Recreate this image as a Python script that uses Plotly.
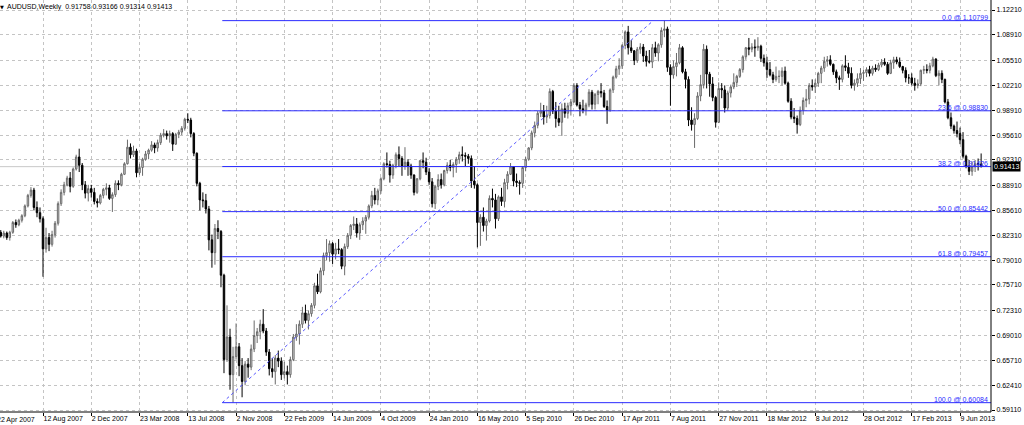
import pandas as pd
import plotly.graph_objects as go

# ---------------- data (AUDUSD weekly) ----------------
first_week = "2007-05-06"

opens = [
    .8270, .8220, .8260, .8200, .8270, .8400, .8370, .8430, .8490, .8620,
    .8760, .8830, .8600, .8530, .8450, .8050, .8200, .8110, .8240, .8390,
    .8650, .8800, .8900, .8990, .8880, .9110, .9270, .9160, .8900, .8790,
    .8850, .8800, .8680, .8660, .8760, .8840, .8860, .8720, .8770, .8920,
    .8900, .9040, .9180, .9400, .9300, .9350, .9060, .9130, .9240, .9310,
    .9360, .9430, .9390, .9460, .9560, .9580, .9550, .9580, .9440, .9570,
    .9600, .9650, .9770, .9760, .9580, .9320, .8920, .8700, .8690, .8580,
    .8170, .8000, .8320, .8280, .7700, .6580, .6880, .6380, .6620, .6750,
    .6500, .6290, .6520, .6480, .6720, .6900, .6950, .7050, .6960, .6680,
    .6460, .6420, .6600, .6560, .6380, .6420, .6380, .6580, .6880, .6920,
    .7050, .7200, .7100, .7190, .7300, .7560, .7480, .7760, .7960, .8000,
    .8120, .7980, .8050, .8040, .7820, .8080, .8230, .8360, .8380, .8260,
    .8370, .8420, .8470, .8620, .8760, .8700, .8820, .8980, .9180, .9170,
    .9030, .9160, .9300, .9250, .9150, .9200, .9150, .9030, .8800, .8980,
    .9220, .9200, .9070, .8940, .8650, .8880, .8970, .8900, .9090, .9160,
    .9130, .9170, .9240, .9300, .9290, .9280, .9250, .8950, .8900, .8400,
    .8470, .8360, .8420, .8720, .8700, .8450, .8740, .8680, .8930, .9040,
    .9140, .8950, .8930, .8920, .9130, .9240, .9390, .9590, .9690, .9850,
    .9880, .9800, .9820, 1.0140, .9880, .9780, .9730, .9910, .9850, .9950,
    1.0000, 1.0220, .9960, .9910, .9890, .9960, 1.0130, .9970, 1.0100, 1.0140,
    1.0120, .9940, .9890, 1.0160, 1.0330, 1.0440, 1.0480, 1.0750, 1.0930, 1.0720,
    1.0680, 1.0550, 1.0700, 1.0730, 1.0610, 1.0540, 1.0530, 1.0720, 1.0650, 1.0760,
    1.0950, 1.0970, 1.0460, 1.0360, 1.0470, 1.0520, 1.0720, 1.0400, 1.0300, .9760,
    .9700, .9780, 1.0080, 1.0230, 1.0700, 1.0370, 1.0240, 1.0060, .9730, 1.0180,
    1.0160, .9920, 1.0120, 1.0200, 1.0260, 1.0340, 1.0430, 1.0600, 1.0720, 1.0700,
    1.0730, 1.0720, 1.0740, 1.0580, 1.0520, 1.0430, 1.0360, 1.0300, 1.0340, 1.0340,
    1.0410, 1.0250, 1.0010, .9800, .9780, .9700, .9890, 1.0020, 1.0040, 1.0220,
    1.0200, 1.0250, 1.0380, 1.0450, 1.0540, 1.0560, 1.0500, 1.0400, 1.0320, 1.0300,
    1.0480, 1.0460, 1.0380, 1.0220, 1.0250, 1.0310, 1.0380, 1.0390, 1.0430, 1.0380,
    1.0450, 1.0430, 1.0490, 1.0530, 1.0500, 1.0380, 1.0520, 1.0560, 1.0530, 1.0470,
    1.0420, 1.0320, 1.0320, 1.0250, 1.0220, 1.0240, 1.0420, 1.0430, 1.0420, 1.0480,
    1.0570, 1.0350, 1.0380, 1.0300, 1.0000, .9790, .9680, .9620, .9580, .9500,
    .9280, .9150, .9080, .9140, .9180, .91758,
]
highs = [
    .8300, .8290, .8280, .8290, .8420, .8440, .8450, .8510, .8640, .8780,
    .8870, .8860, .8680, .8600, .8480, .8330, .8260, .8290, .8420, .8680,
    .8840, .8940, .9020, .9070, .9130, .9300, .9380, .9190, .8950, .8900,
    .8900, .8860, .8720, .8780, .8860, .8920, .8900, .8800, .8960, .8960,
    .9060, .9200, .9500, .9450, .9420, .9380, .9180, .9260, .9350, .9380,
    .9480, .9460, .9500, .9590, .9640, .9620, .9620, .9600, .9590, .9630,
    .9680, .9790, .9850, .9790, .9600, .9330, .8940, .8800, .8780, .8620,
    .8240, .8380, .8430, .8300, .7720, .7300, .6990, .6750, .7060, .6800,
    .6600, .6560, .6600, .6780, .7100, .7000, .7110, .7250, .7000, .6720,
    .6600, .6640, .6700, .6610, .6550, .6500, .6620, .6920, .7050, .7100,
    .7280, .7310, .7230, .7330, .7600, .7720, .7800, .8000, .8180, .8160,
    .8140, .8130, .8180, .8060, .8120, .8260, .8380, .8480, .8460, .8400,
    .8470, .8500, .8640, .8820, .8860, .8850, .9000, .9200, .9330, .9220,
    .9180, .9330, .9410, .9280, .9400, .9240, .9180, .9040, .8990, .9230,
    .9330, .9260, .9120, .8990, .8900, .9040, .9050, .9100, .9200, .9230,
    .9200, .9270, .9340, .9410, .9330, .9310, .9290, .9150, .8920, .8510,
    .8600, .8450, .8760, .8850, .8780, .8760, .8860, .8980, .9080, .9190,
    .9150, .9050, .8960, .9150, .9270, .9400, .9620, .9740, .9880, .9990,
    .9960, .9950, 1.0180, 1.0160, 1.0000, .9950, .9980, .9990, .9990, 1.0040,
    1.0250, 1.0250, 1.0000, 1.0030, .9990, 1.0170, 1.0160, 1.0120, 1.0160, 1.0250,
    1.0160, 1.0020, 1.0180, 1.0350, 1.0480, 1.0580, 1.0770, 1.0950, 1.1010, 1.0820,
    1.0690, 1.0730, 1.0780, 1.0770, 1.0680, 1.0690, 1.0770, 1.0800, 1.0780, 1.0990,
    1.1080, 1.1000, 1.0500, 1.0550, 1.0650, 1.0770, 1.0740, 1.0440, 1.0340, .9930,
    .9850, 1.0130, 1.0360, 1.0770, 1.0750, 1.0400, 1.0330, 1.0080, 1.0260, 1.0250,
    1.0220, 1.0150, 1.0230, 1.0380, 1.0360, 1.0450, 1.0620, 1.0730, 1.0850, 1.0780,
    1.0830, 1.0860, 1.0760, 1.0630, 1.0600, 1.0530, 1.0400, 1.0470, 1.0420, 1.0460,
    1.0470, 1.0270, 1.0050, .9920, .9820, .9940, 1.0060, 1.0170, 1.0250, 1.0300,
    1.0300, 1.0400, 1.0480, 1.0600, 1.0610, 1.0620, 1.0510, 1.0430, 1.0350, 1.0500,
    1.0620, 1.0520, 1.0460, 1.0300, 1.0380, 1.0450, 1.0430, 1.0460, 1.0480, 1.0480,
    1.0500, 1.0520, 1.0570, 1.0580, 1.0530, 1.0560, 1.0600, 1.0600, 1.0590, 1.0480,
    1.0460, 1.0370, 1.0380, 1.0320, 1.0300, 1.0430, 1.0480, 1.0500, 1.0520, 1.0600,
    1.0580, 1.0420, 1.0420, 1.0310, 1.0040, .9860, .9700, .9740, .9660, .9600,
    .9300, .9230, .9210, .9230, .9250, .93166,
]
lows = [
    .8200, .8190, .8170, .8160, .8250, .8330, .8350, .8400, .8470, .8600,
    .8730, .8560, .8470, .8400, .7680, .8000, .8020, .8080, .8200, .8360,
    .8620, .8760, .8880, .8800, .8860, .9090, .9070, .8830, .8720, .8680,
    .8730, .8640, .8600, .8640, .8720, .8760, .8700, .8540, .8740, .8830,
    .8880, .9030, .9170, .9250, .9270, .9000, .9030, .9020, .9220, .9240,
    .9340, .9320, .9340, .9430, .9530, .9500, .9460, .9350, .9430, .9520,
    .9560, .9620, .9720, .9530, .9280, .8880, .8560, .8600, .8520, .8030,
    .7800, .7840, .8180, .7540, .6400, .6550, .6180, .6008, .6580, .6360,
    .6080, .6240, .6340, .6440, .6680, .6800, .6850, .6930, .6630, .6370,
    .6340, .6250, .6480, .6310, .6330, .6250, .6340, .6560, .6830, .6780,
    .7000, .7060, .6980, .7150, .7260, .7450, .7460, .7700, .7900, .7880,
    .7850, .7910, .7980, .7780, .7700, .8050, .8180, .8300, .8200, .8170,
    .8300, .8250, .8440, .8590, .8640, .8630, .8780, .8960, .9130, .8930,
    .8980, .9120, .9150, .9020, .9100, .9020, .8980, .8760, .8780, .8960,
    .9120, .9030, .8900, .8600, .8580, .8830, .8850, .8880, .9050, .9080,
    .9000, .9060, .9180, .9210, .9150, .9180, .8860, .8850, .8070, .8090,
    .8280, .8160, .8400, .8600, .8320, .8420, .8620, .8600, .8840, .9030,
    .8880, .8870, .8770, .8860, .9080, .9220, .9360, .9530, .9650, .9800,
    .9700, .9720, .9780, .9840, .9660, .9680, .9550, .9790, .9780, .9820,
    .9990, .9940, .9810, .9850, .9820, .9930, .9900, .9900, .9970, 1.0060,
    .9920, .9710, .9870, 1.0120, 1.0310, 1.0360, 1.0440, 1.0700, 1.0630, 1.0650,
    1.0490, 1.0520, 1.0640, 1.0530, 1.0470, 1.0510, 1.0450, 1.0600, 1.0540, 1.0720,
    1.0860, 1.0400, .9950, 1.0310, 1.0340, 1.0500, 1.0380, 1.0180, .9680, .9620,
    .9390, .9760, 1.0010, 1.0180, 1.0180, 1.0070, 1.0010, .9660, .9720, 1.0050,
    .9860, .9890, 1.0060, 1.0170, 1.0200, 1.0320, 1.0390, 1.0560, 1.0620, 1.0660,
    1.0600, 1.0680, 1.0530, 1.0470, 1.0320, 1.0340, 1.0250, 1.0270, 1.0250, 1.0220,
    1.0230, .9990, .9770, .9720, .9580, .9680, .9830, .9930, .9970, 1.0150,
    1.0120, 1.0200, 1.0250, 1.0400, 1.0470, 1.0480, 1.0360, 1.0250, 1.0160, 1.0260,
    1.0410, 1.0320, 1.0180, 1.0150, 1.0200, 1.0240, 1.0280, 1.0330, 1.0340, 1.0350,
    1.0400, 1.0410, 1.0460, 1.0480, 1.0360, 1.0370, 1.0440, 1.0500, 1.0450, 1.0380,
    1.0260, 1.0240, 1.0220, 1.0150, 1.0180, 1.0210, 1.0370, 1.0380, 1.0380, 1.0460,
    1.0330, 1.0220, 1.0250, .9980, .9770, .9640, .9580, .9530, .9440, .9250,
    .9120, .9030, .9020, .9070, .9090, .91314,
]
closes = [
    .8220, .8260, .8200, .8270, .8400, .8370, .8430, .8490, .8620, .8760,
    .8830, .8600, .8530, .8450, .8050, .8200, .8110, .8240, .8390, .8650,
    .8800, .8900, .8990, .8880, .9110, .9270, .9160, .8900, .8790, .8850,
    .8800, .8680, .8660, .8760, .8840, .8860, .8720, .8770, .8920, .8900,
    .9040, .9180, .9400, .9300, .9350, .9060, .9130, .9240, .9310, .9360,
    .9430, .9390, .9460, .9560, .9580, .9550, .9580, .9440, .9570, .9600,
    .9650, .9770, .9760, .9580, .9320, .8920, .8700, .8690, .8580, .8170,
    .8000, .8320, .8280, .7700, .6580, .6880, .6380, .6620, .6750, .6500,
    .6290, .6520, .6480, .6720, .6900, .6950, .7050, .6960, .6680, .6460,
    .6420, .6600, .6560, .6380, .6420, .6380, .6580, .6880, .6920, .7050,
    .7200, .7100, .7190, .7300, .7560, .7480, .7760, .7960, .8000, .8120,
    .7980, .8050, .8040, .7820, .8080, .8230, .8360, .8380, .8260, .8370,
    .8420, .8470, .8620, .8760, .8700, .8820, .8980, .9180, .9170, .9030,
    .9160, .9300, .9250, .9150, .9200, .9150, .9030, .8800, .8980, .9220,
    .9200, .9070, .8940, .8650, .8880, .8970, .8900, .9090, .9160, .9130,
    .9170, .9240, .9300, .9290, .9280, .9250, .8950, .8900, .8400, .8470,
    .8360, .8420, .8720, .8700, .8450, .8740, .8680, .8930, .9040, .9140,
    .8950, .8930, .8920, .9130, .9240, .9390, .9590, .9690, .9850, .9880,
    .9800, .9820, 1.0140, .9880, .9780, .9730, .9910, .9850, .9950, 1.0000,
    1.0220, .9960, .9910, .9890, .9960, 1.0130, .9970, 1.0100, 1.0140, 1.0120,
    .9940, .9890, 1.0160, 1.0330, 1.0440, 1.0480, 1.0750, 1.0930, 1.0720, 1.0680,
    1.0550, 1.0700, 1.0730, 1.0610, 1.0540, 1.0530, 1.0720, 1.0650, 1.0760, 1.0950,
    1.0970, 1.0460, 1.0360, 1.0470, 1.0520, 1.0720, 1.0400, 1.0300, .9760, .9700,
    .9780, 1.0080, 1.0230, 1.0700, 1.0370, 1.0240, 1.0060, .9730, 1.0180, 1.0160,
    .9920, 1.0120, 1.0200, 1.0260, 1.0340, 1.0430, 1.0600, 1.0720, 1.0700, 1.0730,
    1.0720, 1.0740, 1.0580, 1.0520, 1.0430, 1.0360, 1.0300, 1.0340, 1.0340, 1.0410,
    1.0250, 1.0010, .9800, .9780, .9700, .9890, 1.0020, 1.0040, 1.0220, 1.0200,
    1.0250, 1.0380, 1.0450, 1.0540, 1.0560, 1.0500, 1.0400, 1.0320, 1.0300, 1.0480,
    1.0460, 1.0380, 1.0220, 1.0250, 1.0310, 1.0380, 1.0390, 1.0430, 1.0380, 1.0450,
    1.0430, 1.0490, 1.0530, 1.0500, 1.0380, 1.0520, 1.0560, 1.0530, 1.0470, 1.0420,
    1.0320, 1.0320, 1.0250, 1.0220, 1.0240, 1.0420, 1.0430, 1.0420, 1.0480, 1.0570,
    1.0350, 1.0380, 1.0300, 1.0000, .9790, .9680, .9620, .9580, .9500, .9280,
    .9150, .9080, .9140, .9180, .9176, .91413,
]

x_tick_labels = [
    "22 Apr 2007", "12 Aug 2007", "2 Dec 2007", "23 Mar 2008", "13 Jul 2008",
    "2 Nov 2008", "22 Feb 2009", "14 Jun 2009", "4 Oct 2009", "24 Jan 2010",
    "16 May 2010", "5 Sep 2010", "26 Dec 2010", "17 Apr 2011", "7 Aug 2011",
    "27 Nov 2011", "18 Mar 2012", "8 Jul 2012", "28 Oct 2012", "17 Feb 2013",
    "9 Jun 2013",
]
y_tick_labels = [
    "1.12210", "1.08910", "1.05510", "1.02210", "0.98910", "0.95610",
    "0.92310", "0.88910", "0.85610", "0.82310", "0.79010", "0.75710",
    "0.72310", "0.69010", "0.65710", "0.62410", "0.59110",
]

fib_levels = ["0.0", "23.6", "38.2", "50.0", "61.8", "100.0"]
fib_prices = [1.10799, 0.98830, 0.91426, 0.85442, 0.79457, 0.60084]
fib_anchor_dates = ["2008-10-01", "2011-06-28"]
fib_anchor_prices = [0.60084, 1.10799]

symbol = "AUDUSD,Weekly"
bid_price = 0.91413

x_range = ["2007-05-04 05:00", "2013-08-19 21:30"]
y_range = [0.58845, 1.13537]

# ---------------- figure ----------------
FONT = "Liberation Sans, Arial, sans-serif"
BLUE = "#2b2bff"

dates = pd.date_range(first_week, periods=len(closes), freq="7D")
tick_dates = pd.to_datetime(x_tick_labels, format="%d %b %Y")

fig = go.Figure()

fig.add_trace(go.Candlestick(
    x=dates, open=opens, high=highs, low=lows, close=closes,
    increasing=dict(line=dict(color="#6a6a6a", width=1), fillcolor="#dcdcdc"),
    decreasing=dict(line=dict(color="#000000", width=1), fillcolor="#000000"),
    whiskerwidth=0, hoverinfo="skip", showlegend=False,
))

# Fibonacci trend (dotted diagonal)
fig.add_trace(go.Scatter(
    x=pd.to_datetime(fib_anchor_dates), y=fib_anchor_prices, mode="lines",
    line=dict(color="#5555ff", width=1, dash="3px,3px"),
    hoverinfo="skip", showlegend=False,
))

shapes = []
# bid line
shapes.append(dict(type="line", xref="paper", yref="y", x0=0, x1=1,
                   y0=bid_price, y1=bid_price, line=dict(color="#c8c8c8", width=1),
                   layer="below"))
annotations = []
for lvl, price in zip(fib_levels, fib_prices):
    shapes.append(dict(type="line", xref="x", yref="y", x0=fib_anchor_dates[0],
                       x1=x_range[1], y0=price, y1=price,
                       line=dict(color=BLUE, width=1)))
    annotations.append(dict(
        text=f"{lvl} @ {price:.5f}", xref="paper", yref="y", x=1, y=price,
        xanchor="right", yanchor="bottom", xshift=-2, yshift=-1, showarrow=False,
        borderpad=0, font=dict(family=FONT, size=7, color=BLUE)))

# chart frame: right price scale and bottom time scale
shapes.append(dict(type="line", xref="paper", yref="paper", x0=1, x1=1, y0=0, y1=1,
                   line=dict(color="#000000", width=1)))
shapes.append(dict(type="line", xref="paper", yref="paper", x0=0, x1=1, y0=0, y1=0,
                   line=dict(color="#000000", width=1)))

# title
annotations.append(dict(
    text=f"{symbol}  {opens[-1]:.5f} {highs[-1]:.5f} {lows[-1]:.5f} {closes[-1]:.5f}",
    xref="paper", yref="paper", x=0, y=1, xanchor="left", yanchor="top",
    xshift=6, yshift=-2, showarrow=False, borderpad=0,
    font=dict(family=FONT, size=7, color="#000000")))
annotations.append(dict(
    text="▼", xref="paper", yref="paper", x=0, y=1, xanchor="left", yanchor="top",
    xshift=-1, yshift=-3, showarrow=False, borderpad=0,
    font=dict(family="DejaVu Sans", size=5, color="#000000")))

# current price label on the axis
annotations.append(dict(
    text=f"{bid_price:.5f}", xref="paper", yref="y", x=1, y=bid_price,
    xanchor="left", yanchor="middle", xshift=1, showarrow=False, borderpad=1,
    bgcolor="#000000", font=dict(family=FONT, size=7, color="#ffffff")))

# first (clipped) date label, left of the visible range
t0 = pd.Timestamp(x_range[0])
t1 = pd.Timestamp(x_range[1])
frac = (tick_dates[0] - t0) / (t1 - t0)
annotations.append(dict(
    text=x_tick_labels[0], xref="paper", yref="paper", x=frac, y=0,
    xanchor="left", yanchor="top", xshift=1, yshift=-3, showarrow=False,
    borderpad=0, font=dict(family=FONT, size=7, color="#000000")))

fig.update_layout(
    width=1024, height=425,
    margin=dict(l=0, r=33, t=0, b=13),
    paper_bgcolor="#ffffff", plot_bgcolor="#ffffff",
    showlegend=False, hovermode=False, dragmode=False,
    shapes=shapes, annotations=annotations,
    font=dict(family=FONT, size=7, color="#000000"),
    xaxis=dict(
        type="date", range=x_range, rangeslider=dict(visible=False),
        tickvals=tick_dates, ticktext=x_tick_labels, tickangle=0,
        ticks="outside", ticklen=3, tickcolor="#000000", tickwidth=1,
        ticklabelposition="outside right", automargin=False,
        showgrid=True, gridcolor="#c4c4c4", gridwidth=1, griddash="dot",
        showline=False, zeroline=False, fixedrange=True, showspikes=False,
        tickfont=dict(family=FONT, size=7, color="#000000"),
    ),
    yaxis=dict(
        side="right", range=y_range, automargin=False,
        tickvals=[float(v) for v in y_tick_labels], ticktext=y_tick_labels,
        ticks="outside", ticklen=3, tickcolor="#000000", tickwidth=1,
        showgrid=True, gridcolor="#c4c4c4", gridwidth=1, griddash="dot",
        showline=False, zeroline=False, fixedrange=True, showspikes=False,
        tickfont=dict(family=FONT, size=7, color="#000000"),
    ),
)

fig.write_html("out.html", config={"displayModeBar": False, "staticPlot": True},
               post_script="document.body.style.margin='0';document.body.style.overflow='hidden';")
